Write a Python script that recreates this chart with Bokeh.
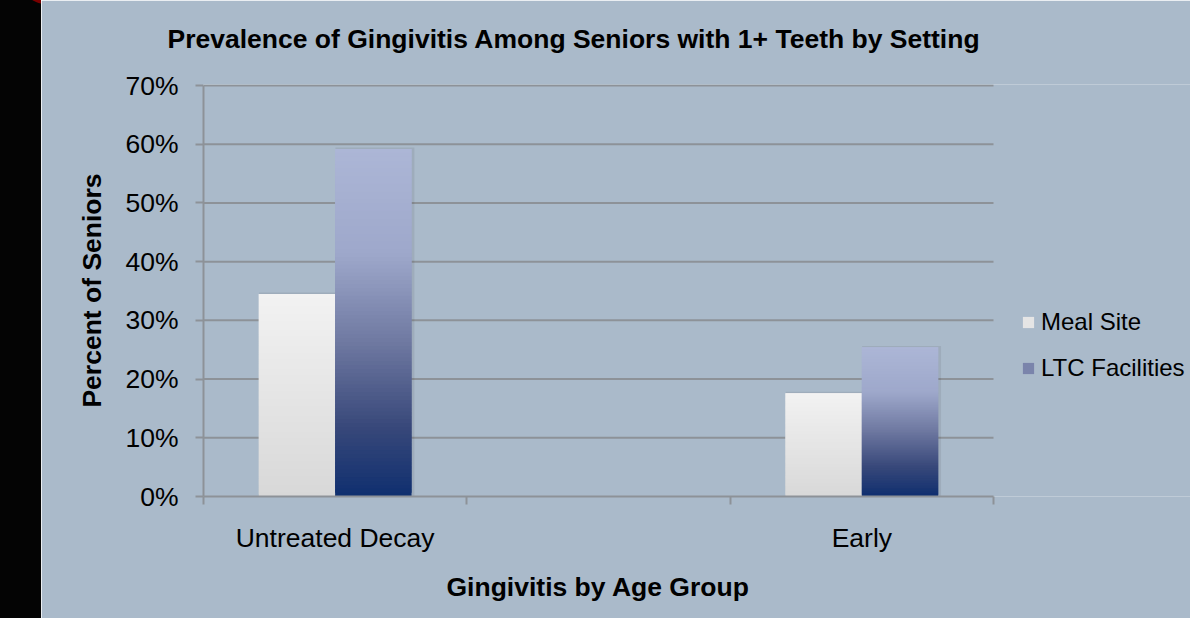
import numpy as np
from bokeh.plotting import figure
from bokeh.models import (ColumnDataSource, FixedTicker, Legend, LegendItem,
                          Range1d, Div, Title)
from bokeh.layouts import row
from bokeh.embed import file_html
from bokeh.resources import INLINE

# ---------------- data ----------------
title_text = "Prevalence of Gingivitis Among Seniors with 1+ Teeth by Setting"
categories = ["Untreated Decay", "", "Early"]
series_names = ["Meal Site", "LTC Facilities"]
meal_site = [34.5, np.nan, 17.6]
ltc_facilities = [59.2, np.nan, 25.4]
y_ticks = [0, 10, 20, 30, 40, 50, 60, 70]
y_tick_labels = ["0%", "10%", "20%", "30%", "40%", "50%", "60%", "70%"]
x_title = "Gingivitis by Age Group"
y_title = "Percent of Seniors"

# ---------------- styles / layout ----------------
BG = "#AABACA"
FONT = "Liberation Sans"
FS = "26.5px"
GRID = "#8D9298"
MEAL_STOPS = [(0.0, (242, 242, 242)), (1.0, (216, 216, 216))]
LTC_STOPS = [(0.0, (172, 182, 214)), (0.3, (158, 168, 203)),
             (0.55, (112, 122, 162)), (0.8, (56, 72, 122)), (1.0, (15, 47, 111))]
BAR_W = 0.29
N_SLICES = 90
FIG_W, FIG_H = 1149, 618
BORDER_L, BORDER_T, BORDER_B = 162, 84, 122
PLOT_AREA_W = 790      # pixel width of the category area
PLOT_AREA_H = 411      # pixel height of the value area (0..70)

n_cat = len(categories)
y_max = y_ticks[-1]
frame_w = FIG_W - BORDER_L
frame_h = FIG_H - BORDER_T - BORDER_B
x_end = n_cat * frame_w / PLOT_AREA_W
y_end = y_max * frame_h / PLOT_AREA_H


def grad_color(stops, t):
    for (t0, c0), (t1, c1) in zip(stops[:-1], stops[1:]):
        if t <= t1:
            f = (t - t0) / (t1 - t0) if t1 > t0 else 0
            c = [round(a + (b - a) * f) for a, b in zip(c0, c1)]
            return "#%02x%02x%02x" % tuple(c)
    return "#%02x%02x%02x" % stops[-1][1]


def gradient_slices(values, offset, stops):
    xs, bottoms, tops, colors = [], [], [], []
    for i, v in enumerate(values):
        if v is None or np.isnan(v):
            continue
        for k in range(N_SLICES):
            b = v * k / N_SLICES
            t = min(v, v * (k + 2) / N_SLICES)
            xs.append(i + 0.5 + offset)
            bottoms.append(b)
            tops.append(t)
            frac = 1 - (k + 0.5) / N_SLICES
            colors.append(grad_color(stops, frac))
    return ColumnDataSource(dict(x=xs, bottom=bottoms, top=tops, color=colors))


p = figure(width=FIG_W, height=FIG_H, output_backend="svg", toolbar_location=None,
           x_range=Range1d(0, x_end), y_range=Range1d(0, y_end),
           min_border_left=BORDER_L, min_border_right=0,
           min_border_top=BORDER_T, min_border_bottom=BORDER_B, margin=0)
p.background_fill_color = BG
p.border_fill_color = BG
p.outline_line_color = None

# horizontal gridlines limited to the category area
p.xgrid.grid_line_color = None
p.ygrid.grid_line_color = None
p.segment(x0=[0] * (len(y_ticks) - 1), x1=[n_cat] * (len(y_ticks) - 1),
          y0=y_ticks[1:], y1=y_ticks[1:], line_color=GRID, line_width=2)

# shadows
for vals, off in ((meal_site, -BAR_W / 2), (ltc_facilities, BAR_W / 2)):
    sx = [i + 0.5 + off + 0.006 for i, v in enumerate(vals) if not np.isnan(v)]
    st = [v + 0.25 for v in vals if not np.isnan(v)]
    p.vbar(x=sx, top=st, bottom=0, width=BAR_W + 0.01, fill_color="#000000",
           fill_alpha=0.07, line_color=None)

src_meal = gradient_slices(meal_site, -BAR_W / 2, MEAL_STOPS)
src_ltc = gradient_slices(ltc_facilities, BAR_W / 2, LTC_STOPS)
r_meal = p.vbar(x="x", top="top", bottom="bottom", width=BAR_W, fill_color="color",
                line_color=None, source=src_meal)
r_ltc = p.vbar(x="x", top="top", bottom="bottom", width=BAR_W, fill_color="color",
               line_color=None, source=src_ltc)

# x axis
cat_centers = [i + 0.5 for i in range(n_cat)]
p.xaxis.bounds = (0, n_cat)
p.xaxis.ticker = FixedTicker(ticks=cat_centers, minor_ticks=list(range(n_cat + 1)))
p.xaxis.major_label_overrides = {c: lab for c, lab in zip(cat_centers, categories)}
p.xaxis.major_tick_line_color = None
p.xaxis.minor_tick_line_color = GRID
p.xaxis.minor_tick_line_width = 2
p.xaxis.minor_tick_out = 8
p.xaxis.minor_tick_in = 0
p.xaxis.axis_line_color = GRID
p.xaxis.axis_line_width = 2
p.xaxis.major_label_text_font = FONT
p.xaxis.major_label_text_font_size = FS
p.xaxis.major_label_text_color = "#000000"
p.xaxis.major_label_standoff = 18

# x axis title, centred on the category area
x_label = Title(text=x_title, text_font=FONT, text_font_size=FS,
                text_font_style="bold", text_color="#000000",
                align="left", offset=243, standoff=28)
p.add_layout(x_label, "below")

# y axis
p.yaxis.bounds = (0, y_max)
p.yaxis.ticker = FixedTicker(ticks=y_ticks, minor_ticks=[])
p.yaxis.major_label_overrides = {t: lab for t, lab in zip(y_ticks, y_tick_labels)}
p.yaxis.major_tick_line_color = GRID
p.yaxis.major_tick_line_width = 2
p.yaxis.major_tick_out = 8
p.yaxis.major_tick_in = 0
p.yaxis.minor_tick_line_color = None
p.yaxis.axis_line_color = GRID
p.yaxis.axis_line_width = 2
p.yaxis.major_label_text_font = FONT
p.yaxis.major_label_text_font_size = FS
p.yaxis.major_label_text_color = "#000000"
p.yaxis.major_label_standoff = 17
p.yaxis.axis_label = y_title
p.yaxis.axis_label_text_font = FONT
p.yaxis.axis_label_text_font_size = FS
p.yaxis.axis_label_text_font_style = "bold"
p.yaxis.axis_label_text_color = "#000000"
p.yaxis.axis_label_standoff = 15

# title (with a thin spacer between it and the plot area)
p.title.text = title_text
p.title.text_font = FONT
p.title.text_font_size = FS
p.title.text_font_style = "bold"
p.title.text_color = "#000000"
p.title.align = "left"
p.title.offset = -36
p.title.standoff = 26
spacer = Title(text=" ", text_font_size="2px", standoff=14)
p.add_layout(spacer, "above")

# legend
mid = N_SLICES // 2
legend = Legend(items=[LegendItem(label=series_names[0], renderers=[r_meal], index=mid),
                       LegendItem(label=series_names[1], renderers=[r_ltc], index=mid)],
                location=(818, 114), orientation="vertical",
                label_text_font=FONT, label_text_font_size="24px",
                label_text_color="#000000",
                glyph_width=14, glyph_height=14, label_standoff=6, spacing=18,
                padding=0, margin=0, border_line_color=None,
                background_fill_alpha=0)
p.add_layout(legend)

strip = Div(text='<div style="position:absolute;left:20px;top:-48px;width:52px;'
                 'height:52px;border-radius:50%;background:#7A0000;"></div>',
            width=41, height=618, margin=0,
            styles={"background-color": "#040404", "overflow": "hidden",
                    "position": "relative"})

layout = row(strip, p, spacing=0, margin=0)
open("out.html", "w").write(file_html(layout, INLINE))
